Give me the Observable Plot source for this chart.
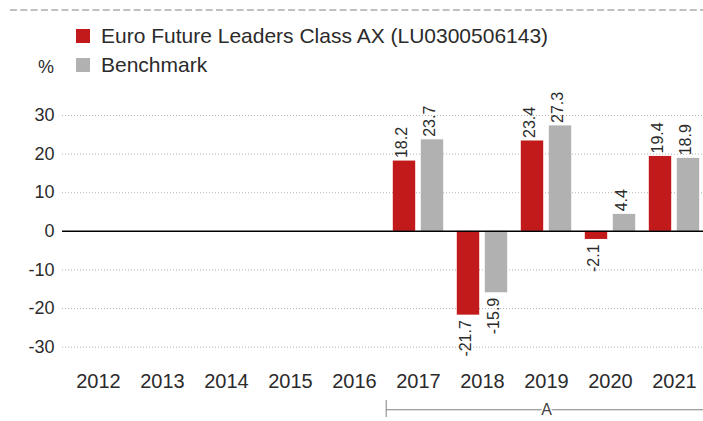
<!DOCTYPE html>
<html>
<head>
<meta charset="utf-8">
<script src="https://cdn.jsdelivr.net/npm/d3@7"></script>
<script src="https://cdn.jsdelivr.net/npm/@observablehq/plot@0.6"></script>
<style>
  html, body { margin: 0; padding: 0; background: #fff; }
  body { width: 703px; height: 421px; overflow: hidden; font-family: "Liberation Sans", Arial, Helvetica, sans-serif; color: #2b2b2b; }
  #header { position: relative; width: 703px; height: 84px; }
  #dash { position: absolute; left: 0; top: 0; }
  .sw { position: absolute; width: 14px; height: 14px; }
  .lt { position: absolute; font-size: 21px; line-height: 21px; white-space: nowrap; }
  #unit { position: absolute; font-size: 18px; line-height: 18px; right: 649px; top: 58px; }
  #chart svg { display: block; }
</style>
</head>
<body>
<div id="header">
  <svg id="dash" width="703" height="20"><line x1="10" y1="10" x2="703" y2="10" stroke="#c0c0c0" stroke-width="2" stroke-dasharray="7,3.3"></line></svg>
  <div class="sw" id="sw0" style="left:76px;top:29px;"></div>
  <div class="lt" id="lt0" style="left:101px;top:25px;"></div>
  <div class="sw" id="sw1" style="left:76px;top:58px;"></div>
  <div class="lt" id="lt1" style="left:101px;top:54px;"></div>
  <div id="unit"></div>
</div>
<div id="chart"></div>
<script>
// ---- data ----
const years = ["2012","2013","2014","2015","2016","2017","2018","2019","2020","2021"];
const fundYears = ["2017","2018","2019","2020","2021"];
const fundValues = [18.2, -21.7, 23.4, -2.1, 19.4];
const benchValues = [23.7, -15.9, 27.3, 4.4, 18.9];
const seriesNames = ["Euro Future Leaders Class AX (LU0300506143)", "Benchmark"];
const seriesColors = ["#c21a1b", "#b1b1b2"];
const yTicks = [30, 20, 10, 0, -10, -20, -30];
const unitLabel = "%";
const periodLabels = ["A"];
const periodFrom = ["2017"];
const periodTo = ["2021"];
const periodMid = ["2019"];

// ---- legend ----
document.getElementById("sw0").style.background = seriesColors[0];
document.getElementById("sw1").style.background = seriesColors[1];
document.getElementById("lt0").textContent = seriesNames[0];
document.getElementById("lt1").textContent = seriesNames[1];
document.getElementById("unit").textContent = unitLabel;

const fund = fundYears.map((y, i) => ({year: y, value: fundValues[i]}));
const bench = fundYears.map((y, i) => ({year: y, value: benchValues[i]}));
const periods = periodLabels.map((l, i) => ({label: l, from: periodFrom[i], to: periodTo[i], mid: periodMid[i]}));

const fmt = d => d.value.toFixed(1);
const textColor = "#2b2b2b";

const chart = Plot.plot({
  width: 703,
  height: 337,
  marginLeft: 62,
  marginRight: 0,
  marginTop: 0,
  marginBottom: 56,
  style: {fontFamily: "'Liberation Sans', Arial, Helvetica, sans-serif", color: textColor, background: "white"},
  x: {domain: years, range: [63.2, 709], padding: 0, axis: null},
  y: {domain: [-30, 30], range: [262.7, 31], axis: null},
  marks: [
    Plot.ruleY(yTicks.filter(d => d !== 0), {stroke: "#b5b5b5", strokeWidth: 1, strokeDasharray: "1,2"}),
    Plot.axisY(yTicks, {tickSize: 0, tickPadding: 8, fontSize: 18, fill: textColor, label: null, tickFormat: d => String(d)}),
    Plot.axisX({tickSize: 0, tickPadding: 8, fontSize: 20, fill: textColor, label: null}),
    Plot.barY(fund, {x: "year", y: "value", fill: seriesColors[0], insetLeft: 6.8, insetRight: 34.8}),
    Plot.barY(bench, {x: "year", y: "value", fill: seriesColors[1], insetLeft: 34.8, insetRight: 6.8}),
    Plot.ruleY([0], {stroke: "#000", strokeWidth: 1.5}),
    // value labels
    Plot.text(fund.filter(d => d.value >= 0), {x: "year", y: "value", text: fmt, rotate: -90, textAnchor: "start", dx: -17, dy: -3, fontSize: 16, fill: textColor}),
    Plot.text(fund.filter(d => d.value < 0), {x: "year", y: "value", text: fmt, rotate: -90, textAnchor: "end", dx: -17, dy: 5, fontSize: 16, fill: textColor}),
    Plot.text(bench.filter(d => d.value >= 0), {x: "year", y: "value", text: fmt, rotate: -90, textAnchor: "start", dx: 11.5, dy: -3, fontSize: 16, fill: textColor}),
    Plot.text(bench.filter(d => d.value < 0), {x: "year", y: "value", text: fmt, rotate: -90, textAnchor: "end", dx: 11.5, dy: 5, fontSize: 16, fill: textColor}),
    // period bracket
    Plot.ruleY(periods, {x1: "from", x2: "to", y: -46.2, stroke: "#808080", strokeWidth: 1}),
    Plot.ruleX(periods, {x: "from", y1: -43.8, y2: -48.2, dx: -32.3, stroke: "#808080", strokeWidth: 1}),
    Plot.text(periods, {x: "mid", y: -46.2, text: "label", fontSize: 16, fill: "#444", stroke: "white", strokeWidth: 3})
  ]
});
document.getElementById("chart").appendChild(chart);
</script>
</body>
</html>
